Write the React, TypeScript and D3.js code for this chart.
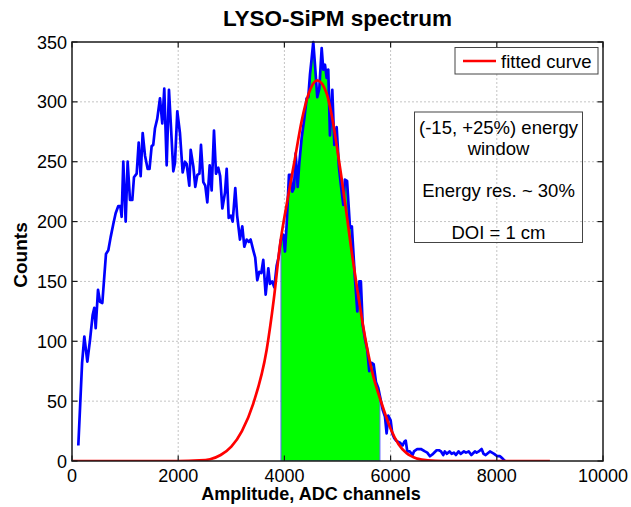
import React from "react";
import * as d3 from "d3";

// ---- data ----
const spectrumX = [
  119, 190, 232, 289, 339, 389, 420, 446, 490, 527, 571, 640, 684, 728, 778, 822, 872, 910, 935, 966,
  1011, 1048, 1092, 1136, 1167, 1218, 1256, 1293, 1331, 1375, 1425, 1460, 1500, 1530, 1563, 1606, 1657, 1700, 1738, 1783,
  1826, 1864, 1908, 1939, 1983, 2033, 2084, 2128, 2160, 2209, 2235, 2285, 2322, 2360, 2400, 2429, 2473, 2510, 2548, 2593,
  2630, 2674, 2712, 2755, 2790, 2831, 2881, 2913, 2951, 2990, 3026, 3075, 3110, 3163, 3207, 3245, 3290, 3330, 3364, 3414,
  3450, 3489, 3527, 3565, 3602, 3647, 3697, 3728, 3770, 3810, 3854, 3890, 3935, 3979, 4011, 4042, 4086, 4120, 4149, 4180,
  4212, 4250, 4281, 4325, 4375, 4419, 4450, 4482, 4513, 4544, 4576, 4619, 4657, 4702, 4732, 4764, 4796, 4826, 4858, 4902,
  4940, 4984, 5028, 5060, 5109, 5140, 5180, 5235, 5270, 5329, 5373, 5410, 5440, 5474, 5517, 5561, 5598, 5643, 5680, 5724,
  5768, 5800, 5850, 5894, 5925, 5956, 6001, 6031, 6069, 6105, 6144, 6185, 6226, 6258, 6285, 6314, 6360, 6414, 6440, 6502,
  6570, 6647, 6690, 6741, 6800, 6867, 6910, 6950, 6992, 7020, 7060, 7110, 7150, 7193, 7230, 7280, 7320, 7381, 7420, 7470,
  7520, 7588, 7620, 7660, 7714, 7750, 7790, 7871, 7910, 7950, 8008, 8060, 8109, 8153,
];
const spectrumCounts = [
  13, 82, 104, 83, 101, 122, 128, 111, 143, 133, 132, 173, 176, 187, 198, 207, 213, 213, 204, 250,
  200, 250, 218, 218, 237, 240, 266, 238, 274, 255, 244, 244, 263, 264, 278, 286, 303, 282, 311, 247,
  310, 279, 242, 249, 292, 274, 241, 250, 248, 230, 260, 246, 229, 239, 240, 264, 233, 230, 216, 247,
  226, 276, 240, 245, 238, 211, 224, 244, 203, 205, 200, 228, 205, 185, 196, 179, 185, 183, 185, 176,
  170, 151, 158, 157, 168, 139, 161, 148, 150, 145, 163, 170, 185, 189, 175, 197, 239, 239, 225, 228,
  257, 229, 249, 270, 286, 303, 304, 323, 336, 350, 331, 304, 311, 345, 327, 331, 320, 327, 272, 310,
  264, 279, 245, 232, 214, 235, 234, 195, 196, 152, 125, 150, 150, 114, 102, 93, 75, 82, 81, 66,
  61, 54, 43, 37, 23, 38, 34, 23, 19, 17, 16, 15, 13, 16, 17, 8, 8, 5, 8, 10,
  10, 8, 7, 4, 6, 9, 9, 8, 5, 8, 6, 8, 6, 7, 5, 8, 6, 8, 7, 8,
  5, 8, 7, 8, 10, 6, 5, 8, 7, 6, 4, 4, 2, 0,
];

const fitX = [
  0, 1000, 2000, 2400, 2600, 2800, 3000, 3200, 3414, 3666, 3800, 3916, 4074, 4200, 4325, 4450, 4619, 4796, 4890, 4984,
  5078, 5172, 5266, 5360, 5517, 5650, 5832, 6000, 6150, 6302, 6500, 6700, 7000, 8000, 9000,
];
const fitCounts = [
  0, 0, 0, 0.5, 1.5, 5, 12, 25, 48, 93, 135, 180, 222, 253, 284, 306, 318, 307, 289, 264,
  236, 206, 175, 147, 104, 75, 48, 27, 14, 6.4, 2, 0.5, 0, 0, 0,
];

const windowLow = 3935;
const windowHigh = 5800;

const xTicks = [0, 2000, 4000, 6000, 8000, 10000];
const yTicks = [0, 50, 100, 150, 200, 250, 300, 350];

const titleText = "LYSO-SiPM spectrum";
const xLabel = "Amplitude, ADC channels";
const yLabel = "Counts";
const legendLabel = "fitted curve";
const noteLines = ["(-15, +25%) energy", "window", "", "Energy res. ~ 30%", "", "DOI = 1 cm"];

// ---- layout ----
const W = 631;
const H = 507;
const L = 72;
const R = 603;
const T = 42;
const B = 461;
const FONT = "'Liberation Sans', Arial, Helvetica, sans-serif";

export default function App() {
  const x = d3.scaleLinear().domain([0, 10000]).range([L, R]);
  const y = d3.scaleLinear().domain([0, 350]).range([B, T]);

  const spectrum = spectrumX.map((v, i) => [v, spectrumCounts[i]] as [number, number]);
  const fit = fitX.map((v, i) => [v, fitCounts[i]] as [number, number]);
  const windowPts = spectrum.filter((p) => p[0] >= windowLow && p[0] <= windowHigh);

  const line = d3
    .line<[number, number]>()
    .x((d) => x(d[0]))
    .y((d) => y(d[1]));
  const fitLine = d3
    .line<[number, number]>()
    .x((d) => x(d[0]))
    .y((d) => y(d[1]))
    .curve(d3.curveMonotoneX);
  const area = d3
    .area<[number, number]>()
    .x((d) => x(d[0]))
    .y0(y(0))
    .y1((d) => y(d[1]));

  const tickLen = 5.5;
  const axisColor = "#1a1a1a";

  return (
    <svg
      width={W}
      height={H}
      style={{ position: "absolute", left: 0, top: 0, background: "#fff" }}
      fontFamily={FONT}
    >
      <defs>
        <clipPath id="plotClip">
          <rect x={L} y={T - 2} width={R - L} height={B - T + 2} />
        </clipPath>
      </defs>
      <rect x={0} y={0} width={W} height={H} fill="#fff" />

      {/* grid */}
      <g stroke="#c4c4c4" strokeWidth={1} strokeDasharray="2,2">
        {xTicks.slice(1, -1).map((t) => (
          <line key={"gx" + t} x1={x(t)} x2={x(t)} y1={T} y2={B} />
        ))}
        {yTicks.slice(1, -1).map((t) => (
          <line key={"gy" + t} x1={L} x2={R} y1={y(t)} y2={y(t)} />
        ))}
      </g>

      {/* data */}
      <g clipPath="url(#plotClip)">
        <path d={area(windowPts) || ""} fill="#00ff00" stroke="#6a6aff" strokeWidth={1} />
        <path
          d={line(spectrum) || ""}
          fill="none"
          stroke="#0000ff"
          strokeWidth={2.7}
          strokeLinejoin="round"
        />
        <path d={fitLine(fit) || ""} fill="none" stroke="#ff0000" strokeWidth={2.7} />
      </g>

      {/* axes box */}
      <rect x={L} y={T} width={R - L} height={B - T} fill="none" stroke={axisColor} strokeWidth={1.5} />
      <g stroke={axisColor} strokeWidth={1.2}>
        {xTicks.map((t) => (
          <g key={"tx" + t}>
            <line x1={x(t)} x2={x(t)} y1={B} y2={B - tickLen} />
            <line x1={x(t)} x2={x(t)} y1={T} y2={T + tickLen} />
          </g>
        ))}
        {yTicks.map((t) => (
          <g key={"ty" + t}>
            <line x1={L} x2={L + tickLen} y1={y(t)} y2={y(t)} />
            <line x1={R} x2={R - tickLen} y1={y(t)} y2={y(t)} />
          </g>
        ))}
      </g>

      {/* tick labels */}
      <g fontSize={18} fill="#000">
        {xTicks.map((t) => (
          <text key={"lx" + t} x={x(t)} y={482} textAnchor="middle">
            {t}
          </text>
        ))}
        {yTicks.map((t) => (
          <text key={"ly" + t} x={67} y={y(t) + 6.5} textAnchor="end">
            {t}
          </text>
        ))}
      </g>

      {/* title and axis labels */}
      <text x={(L + R) / 2} y={26} textAnchor="middle" fontWeight="bold" fontSize={22.5}>
        {titleText}
      </text>
      <text x={311} y={500} textAnchor="middle" fontWeight="bold" fontSize={18}>
        {xLabel}
      </text>
      <text
        transform={`translate(27,255) rotate(-90)`}
        textAnchor="middle"
        fontWeight="bold"
        fontSize={19}
      >
        {yLabel}
      </text>

      {/* legend */}
      <rect x={455} y={47.5} width={143} height={26.5} fill="#fff" stroke="#444" strokeWidth={1} />
      <line x1={463} x2={496} y1={61} y2={61} stroke="#ff0000" strokeWidth={2.7} />
      <text x={501} y={67.5} fontSize={18.5}>
        {legendLabel}
      </text>

      {/* annotation box */}
      <rect x={414.5} y={112} width={168} height={130.5} fill="none" stroke="#444" strokeWidth={1} />
      <g fontSize={18.5} textAnchor="middle">
        {noteLines.map((s, i) =>
          s ? (
            <text key={"n" + i} x={498.5} y={133.5 + i * 21}>
              {s}
            </text>
          ) : null
        )}
      </g>
    </svg>
  );
}
